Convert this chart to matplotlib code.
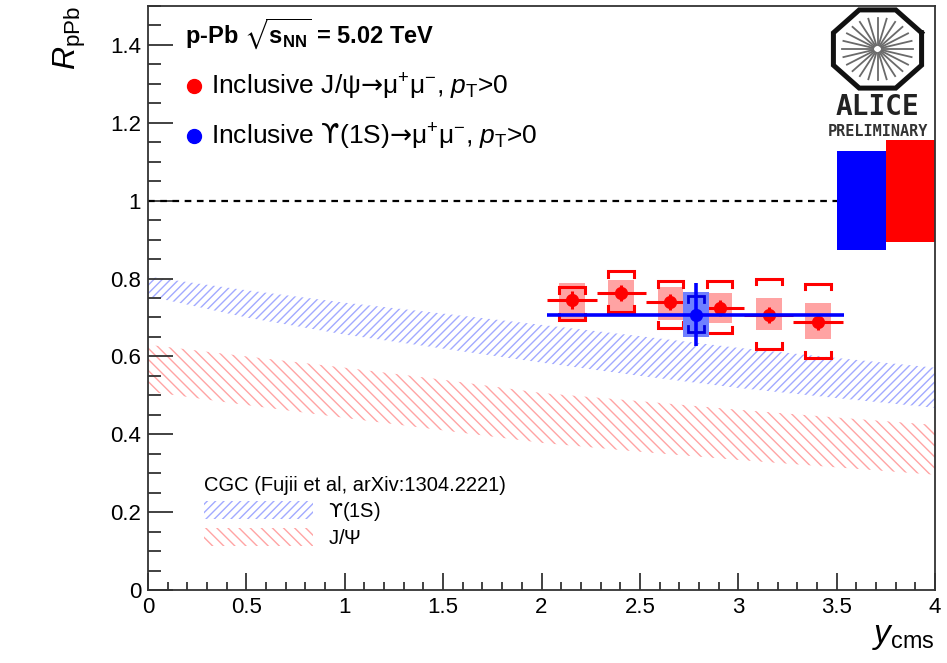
import numpy as np
import matplotlib
matplotlib.use("Agg")
import matplotlib.pyplot as plt
from matplotlib.lines import Line2D
from matplotlib.ticker import MultipleLocator

plt.rcParams['font.family'] = ['Liberation Sans', 'DejaVu Sans']
plt.rcParams['mathtext.fontset'] = 'custom'
plt.rcParams['mathtext.rm'] = 'Liberation Sans'
plt.rcParams['mathtext.it'] = 'Liberation Sans:italic'
plt.rcParams['mathtext.bf'] = 'Liberation Sans:bold'
plt.rcParams['mathtext.sf'] = 'DejaVu Sans'
plt.rcParams['mathtext.default'] = 'regular'
plt.rcParams['mathtext.fallback'] = 'stix'
plt.rcParams['hatch.linewidth'] = 1.0

# J/psi R_pPb vs rapidity (6 bins of 0.25)
jpsi_y = [2.155, 2.405, 2.655, 2.905, 3.155, 3.405]
jpsi_dy = 0.125
jpsi_r = [0.745, 0.763, 0.740, 0.725, 0.707, 0.689]
jpsi_stat = [0.023, 0.020, 0.020, 0.020, 0.020, 0.020]
# uncorrelated systematics (open brackets)
jpsi_unc_lo = [0.694, 0.715, 0.673, 0.661, 0.620, 0.596]
jpsi_unc_hi = [0.779, 0.820, 0.794, 0.794, 0.800, 0.787]
# partially correlated systematics (filled boxes)
jpsi_cor_lo = [0.692, 0.715, 0.694, 0.686, 0.668, 0.645]
jpsi_cor_hi = [0.789, 0.797, 0.779, 0.763, 0.750, 0.738]

# Upsilon(1S), one bin covering 2.03 < y < 3.54
ups_y = [2.785]
ups_dy = 0.755
ups_r = [0.707]
ups_stat = [0.081]
ups_unc_lo = [0.663]
ups_unc_hi = [0.756]
ups_cor_lo = [0.650]
ups_cor_hi = [0.766]

# global uncertainties drawn at unity
glob_ups_x = [3.50, 3.75]
glob_ups = (0.874, 1.128)
glob_jpsi_x = [3.75, 4.00]
glob_jpsi = (0.895, 1.157)

# CGC calculation bands
cgc_y = [0, 0.5, 1, 1.5, 2, 2.5, 3, 3.5, 4]
cgc_ups_hi = [0.805, 0.770, 0.738, 0.710, 0.681, 0.652, 0.622, 0.596, 0.571]
cgc_ups_lo = [0.755, 0.700, 0.656, 0.620, 0.584, 0.550, 0.519, 0.493, 0.468]
cgc_jpsi_hi = [0.630, 0.600, 0.571, 0.540, 0.506, 0.485, 0.463, 0.443, 0.424]
cgc_jpsi_lo = [0.510, 0.475, 0.442, 0.410, 0.378, 0.355, 0.334, 0.315, 0.296]

box_hw = 0.065
leg = 0.015

fig = plt.figure(figsize=(9.47, 6.63), dpi=100)
ax = fig.add_axes([148 / 947, 73 / 663, 787 / 947, 584 / 663])

# model bands
band_u = ax.fill_between(cgc_y, cgc_ups_lo, cgc_ups_hi, facecolor='none',
                         edgecolor='#a2aaff', hatch='////', linewidth=0,
                         zorder=1)
band_j = ax.fill_between(cgc_y, cgc_jpsi_lo, cgc_jpsi_hi, facecolor='none',
                         edgecolor='#ffa4a4', hatch='\\\\\\', linewidth=0,
                         zorder=1)

ax.plot([0, 3.5], [1, 1], color='black', lw=1.6, ls=(0, (3, 2.5)), zorder=2)

# global uncertainty boxes
ax.fill_between(glob_ups_x, glob_ups[0], glob_ups[1], color='#0000ff',
                linewidth=0, zorder=2)
ax.fill_between(glob_jpsi_x, glob_jpsi[0], glob_jpsi[1], color='#ff0000',
                linewidth=0, zorder=2)


def brackets(x, lo, hi, hw, color, lw, z):
    for xi, l, h in zip(x, lo, hi):
        ax.plot([xi - hw, xi - hw, xi + hw, xi + hw], [h - leg, h, h, h - leg],
                color=color, lw=lw, zorder=z, solid_joinstyle='miter')
        ax.plot([xi - hw, xi - hw, xi + hw, xi + hw], [l + leg, l, l, l + leg],
                color=color, lw=lw, zorder=z, solid_joinstyle='miter')


# J/psi
for xi, l, h in zip(jpsi_y, jpsi_cor_lo, jpsi_cor_hi):
    ax.fill_between([xi - box_hw, xi + box_hw], l, h, color='#ffa3a3',
                    linewidth=0, zorder=3)
brackets(jpsi_y, jpsi_unc_lo, jpsi_unc_hi, box_hw, 'red', 2.2, 4)
ax.errorbar(jpsi_y, jpsi_r, xerr=jpsi_dy, yerr=jpsi_stat, fmt='o', color='red',
            ms=8.5, elinewidth=2.2, capsize=0, zorder=5)

# Upsilon(1S)
for xi, l, h in zip(ups_y, ups_cor_lo, ups_cor_hi):
    ax.fill_between([xi - box_hw, xi + box_hw], l, h, color='#6f80ff',
                    linewidth=0, zorder=6)
brackets(ups_y, ups_unc_lo, ups_unc_hi, 0.04, '#0000dd', 2.0, 7)
ax.errorbar(ups_y, ups_r, xerr=ups_dy, yerr=ups_stat, fmt='o', color='blue',
            ms=8.5, elinewidth=2.6, capsize=0, zorder=8)

ax.set_xlim(0, 4)
ax.set_ylim(0, 1.5)
ax.xaxis.set_minor_locator(MultipleLocator(0.1))
ax.yaxis.set_minor_locator(MultipleLocator(0.05))
ax.set_xticks([0, 0.5, 1, 1.5, 2, 2.5, 3, 3.5, 4])
ax.set_xticklabels(['0', '0.5', '1', '1.5', '2', '2.5', '3', '3.5', '4'])
ax.set_yticks([0, 0.2, 0.4, 0.6, 0.8, 1, 1.2, 1.4])
ax.set_yticklabels(['0', '0.2', '0.4', '0.6', '0.8', '1', '1.2', '1.4'])
ax.tick_params(axis='both', which='both', direction='in', top=False, right=False,
               labelsize=16, width=1.3, color='#333333')
ax.tick_params(axis='x', which='major', length=12.5, pad=5)
ax.tick_params(axis='x', which='minor', length=6)
ax.tick_params(axis='y', which='major', length=18, pad=5)
ax.tick_params(axis='y', which='minor', length=9)
for s in ax.spines.values():
    s.set_linewidth(1.3)
    s.set_color('#333333')

ax.set_ylabel(r'$\mathit{R}_{\rm pPb}$', fontsize=23, loc='top', labelpad=16)
ax.set_xlabel(r'$\mathit{y}_{\rm cms}$', fontsize=24, loc='right', labelpad=2)

ax.text(0.19, 1.43, r'p-Pb $\sqrt{\mathbf{s}_{\mathbf{NN}}}$ = 5.02 TeV',
        fontsize=17, fontweight='bold', va='center')

# data legend
h_j = Line2D([], [], ls='none', marker='o', ms=10, color='red')
h_u = Line2D([], [], ls='none', marker='o', ms=10, color='blue')
leg1 = ax.legend([h_j, h_u],
                 [r'Inclusive J/$\psi\mathsf{→}\mu^{+}\mu^{-}$, $\mathit{p}_{\rm T}$>0',
                  r'Inclusive $\mathsf{ϒ}$(1S)$\mathsf{→}\mu^{+}\mu^{-}$, $\mathit{p}_{\rm T}$>0'],
                 loc='upper left', bbox_to_anchor=(186 / 947, 1 - 72 / 663),
                 bbox_transform=fig.transFigure, frameon=False, fontsize=19,
                 handlelength=0.6, handletextpad=0.35, labelspacing=0.75,
                 borderpad=0, borderaxespad=0)
ax.add_artist(leg1)

# model legend
ax.legend([band_u, band_j], [r'$\mathsf{ϒ}$(1S)', r'J/$\Psi$'],
          title='CGC (Fujii et al, arXiv:1304.2221)', title_fontsize=14.5,
          loc='upper left', bbox_to_anchor=(204 / 947, 1 - 476 / 663),
          bbox_transform=fig.transFigure, frameon=False, fontsize=14.5,
          handlelength=5.4, handleheight=1.0, handletextpad=0.75,
          labelspacing=0.25, borderpad=0, borderaxespad=0, alignment='left')

# ALICE logo
lg = fig.add_axes([829 / 947, 1 - 92 / 663, 97 / 947, 86 / 663])
lg.set_xlim(-1.1, 1.1)
lg.set_ylim(-1.1, 1.1)
lg.axis('off')
ang = np.deg2rad(22.5 + 45 * np.arange(9))
rr = 1 / np.cos(np.deg2rad(22.5))
lg.plot(rr * np.cos(ang), rr * np.sin(ang), color='#111111', lw=3.6,
        solid_joinstyle='miter')
for a in np.deg2rad(np.arange(0, 360, 15)):
    lg.plot([0.1 * np.cos(a), 0.8 * np.cos(a)], [0.1 * np.sin(a), 0.8 * np.sin(a)],
            color='#6a6a6a', lw=1.3)
fig.text(877 / 947, 1 - 107 / 663, 'ALICE', fontsize=20, fontweight='bold',
         family='DejaVu Sans Mono', color='#222222', ha='center', va='center')
fig.text(878 / 947, 1 - 131 / 663, 'PRELIMINARY', fontsize=11, fontweight='bold',
         family='DejaVu Sans Mono', color='#333333', ha='center', va='center')

fig.savefig('out.png', dpi=100)
